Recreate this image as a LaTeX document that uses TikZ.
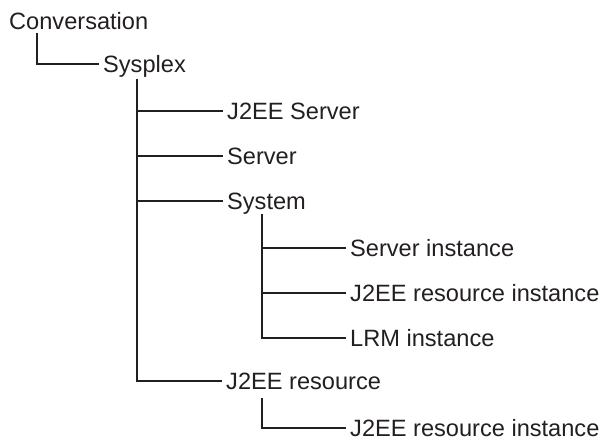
\documentclass[tikz,border=0pt]{standalone}
\usepackage{fontspec}
\setmainfont{Liberation Sans}
\usepackage{tikz}
\usetikzlibrary{positioning, calc}
\definecolor{mydark}{RGB}{35,31,32}
\tikzset{
  item/.style={anchor=west, inner xsep=4pt, inner ysep=0pt,
    text height=17pt, text depth=0pt, text=mydark,
    font=\fontsize{23.6}{28}\selectfont},
  line/.style={line width=1.1pt, color=mydark}
}
\begin{document}
\begin{tikzpicture}[x=1pt, y=-1pt]
    \useasboundingbox (0,0) rectangle (604,440);
    % tree items
    \node[item] (conv) at (5,21) {Conversation};
    \node[item] (sysplex) at (99,64) {Sysplex};
    \node[item] (jserver) at (223,111) {J2EE Server};
    \node[item] (server) at (223,156) {Server};
    \node[item] (system) at (223,201) {System};
    \node[item] (srvinst) at (346,248) {Server instance};
    \node[item] (jresinst) at (346,293) {J2EE resource instance};
    \node[item] (lrminst) at (346,338) {LRM instance};
    \node[item] (jres) at (222,381) {J2EE resource};
    \node[item] (jresinst2) at (346,428) {J2EE resource instance};
    % trunks
    \coordinate (cx) at ([xshift=32pt, yshift=-3pt]conv.south west);
    \coordinate (sx) at ([xshift=38pt, yshift=-6pt]sysplex.south west);
    \coordinate (yx) at ([xshift=39pt, yshift=-4pt]system.south west);
    \coordinate (rx) at ([xshift=40pt, yshift=-8pt]jres.south west);
    \draw[line] (cx) |- (sysplex.west);
    \draw[line] (sx) |- (jres.west);
    \foreach \n in {jserver, server, system}
      \draw[line] (sx |- \n.west) -- (\n.west);
    \draw[line] (yx) |- (lrminst.west);
    \foreach \n in {srvinst, jresinst}
      \draw[line] (yx |- \n.west) -- (\n.west);
    \draw[line] (rx) |- (jresinst2.west);
\end{tikzpicture}
\end{document}
